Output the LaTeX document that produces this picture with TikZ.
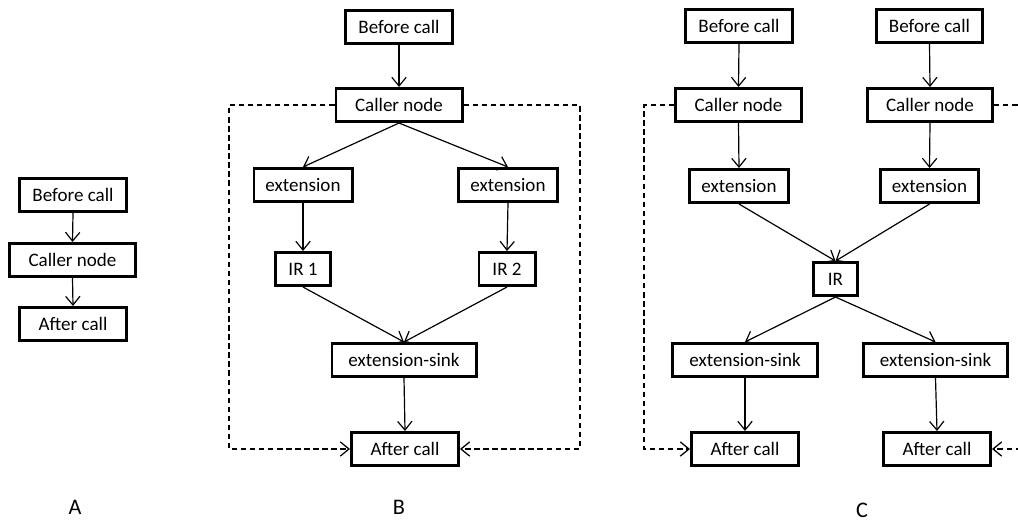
\documentclass[tikz,border=0pt]{standalone}
\usepackage{fontspec}
\setmainfont{Carlito}
\usepackage{tikz}
\usetikzlibrary{arrows.meta}
\tikzstyle{callbox}=[rectangle,draw=black,line width=1.8pt,minimum height=20.9pt,inner sep=0pt,font=\fontsize{12}{14}\selectfont]
\tikzstyle{edge} = [draw,line width=0.75pt,-{Straight Barb[length=5.5pt,width=9pt,line width=0.75pt]}]
\tikzstyle{loopedge} = [draw,line width=0.8pt,dash pattern=on 3.4pt off 2.3pt,-{Straight Barb[length=5.5pt,width=9pt,line width=0.8pt]}]
\tikzstyle{panel} = [font=\fontsize{14}{16}\selectfont]

\begin{document}
\begin{tikzpicture}[x=0.63pt,y=-0.63pt]
\clip (0,0) rectangle (1018,521);

    % A: plain call
    \foreach \pos/\name/\label/\w in {{(73,195)/A1/Before call/110}, {(72.5,260)/A2/Caller node/129}, {(73,324)/A3/After call/110}}
        \node[callbox, minimum width=\w*0.63pt-1.8pt] (\name) at \pos {\label};

  \foreach \source/ \dest in {A1/A2, A2/A3}
          \path[edge] (\source.south) -- (\dest.north);

\node[panel] (LA) at (75,507) {A};

    % B: one caller, two IRs
    % First we draw the boxes
    \foreach \pos/\name/\label/\w in {{(399,27)/B1/Before call/110}, {(399,105)/B2/Caller node/129}, {(303,185)/B3/extension/101}, {(508,185)/B4/extension/102}, {(303,269)/B5/IR 1/58}, {(507,269)/B6/IR 2/59}, {(404,360)/B7/extension-sink/147}, {(405,449)/B8/After call/110}}
        \node[callbox, minimum width=\w*0.63pt-1.8pt] (\name) at \pos {\label};

    % Connect boxes with edges
  \foreach \source/ \dest in {B1/B2, B2/B3, B2/B4, B3/B5, B4/B6, B5/B7, B6/B7, B7/B8}
          \path[edge] (\source.south) -- (\dest.north);

\coordinate (Bl) at (229,300);
\coordinate (Br) at (580,300);
\path[loopedge] (B2.west) -| (Bl) |- (B8.west);
\path[loopedge] (B2.east) -| (Br) |- (B8.east);

\node[panel] (LB) at (399,507) {B};

    % C: two callers, one IR
    % First we draw the boxes
    \foreach \pos/\name/\label/\w in {{(739,26)/C1/Before call/110}, {(929.5,26)/C2/Before call/109}, {(738.5,105)/C3/Caller node/129}, {(930,105)/C4/Caller node/128}, {(739,186)/C5/extension/102}, {(929.5,186)/C6/extension/101}, {(835.5,279)/C7/IR/47}, {(745,360)/C8/extension-sink/148}, {(935.5,360)/C9/extension-sink/147}, {(745,449)/C10/After call/110}, {(937,449)/C11/After call/110}}
        \node[callbox, minimum width=\w*0.63pt-1.8pt] (\name) at \pos {\label};

    % Connect boxes with edges
  \foreach \source/ \dest in {C1/C3, C2/C4, C3/C5, C4/C6, C5/C7, C6/C7, C7/C8, C7/C9, C8/C10, C9/C11}
          \path[edge] (\source.south) -- (\dest.north);

\coordinate (Cl) at (644,300);
\coordinate (Cr) at (1030,300);
\path[loopedge] (C3.west) -| (Cl) |- (C10.west);
\path[loopedge] (C4.east) -| (Cr) |- (C11.east);

\node[panel] (LC) at (862,510) {C};

\end{tikzpicture}
\end{document}
